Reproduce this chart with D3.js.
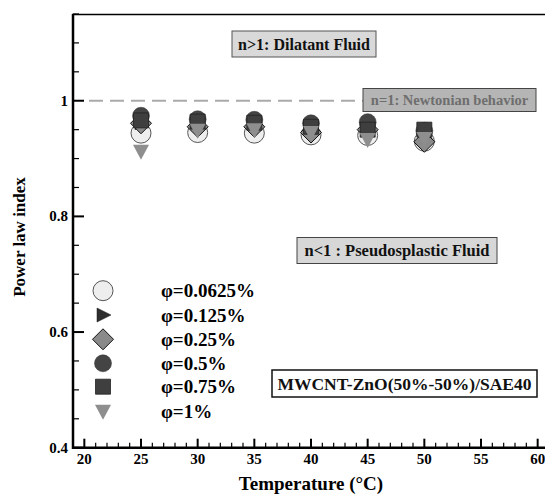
<!DOCTYPE html>
<html><head><meta charset="utf-8">
<script src="https://cdn.jsdelivr.net/npm/d3@7"></script>
<style>body{margin:0;background:#fff}svg{display:block}</style>
</head><body>
<svg id="c" width="545" height="495" font-family="'Liberation Serif', Tinos, Times, serif" font-weight="bold"></svg>
<script>
const temps = [25, 30, 35, 40, 45, 50];
const phi0625 = [0.944, 0.945, 0.944, 0.941, 0.940, 0.930];
const phi125 = [0.962, 0.960, 0.960, 0.952, 0.955, 0.935];
const phi25 = [0.961, 0.955, 0.955, 0.945, 0.950, 0.929];
const phi5 = [0.974, 0.968, 0.967, 0.961, 0.963, 0.948];
const phi75 = [0.966, 0.964, 0.962, 0.955, 0.950, 0.950];
const phi1 = [0.912, 0.948, 0.949, 0.944, 0.932, 0.934];
const seriesNames = ["φ=0.0625%", "φ=0.125%", "φ=0.25%", "φ=0.5%", "φ=0.75%", "φ=1%"];
const xTicks = [20, 25, 30, 35, 40, 45, 50, 55, 60];
const yTicks = [0.4, 0.6, 0.8, 1];
const yTickLabels = ["0.4", "0.6", "0.8", "1"];

const svg = d3.select("#c");
const x = d3.scaleLinear().domain([19, 61]).range([73, 549]);
const y = d3.scaleLinear().domain([0.4, 1.15]).range([447.7, 14]);

const shapes = [
  {fill:"#eeeeee", stroke:"#555", sw:1, path: () => d3.symbol(d3.symbolCircle, Math.PI*10*10)()},
  {fill:"#2e2e2e", stroke:"#1a1a1a", sw:0.5, path: () => "M-6,-7L8,0L-6,7Z"},
  {fill:"#8a8a8a", stroke:"#111", sw:1, path: () => "M0,-10.5L10.5,0L0,10.5L-10.5,0Z"},
  {fill:"#444", stroke:"#333", sw:0.5, path: () => d3.symbol(d3.symbolCircle, Math.PI*8.5*8.5)()},
  {fill:"#3f3f3f", stroke:"#222", sw:0.8, path: () => "M-7.5,-7.5H7.5V7.5H-7.5Z"},
  {fill:"#8e8e8e", stroke:"none", sw:0, path: () => "M-8,-7H8L0,8Z"}
];
const allSeries = [phi0625, phi125, phi25, phi5, phi75, phi1];

svg.append("line").attr("x1", 72).attr("x2", 545).attr("y1", 14.5).attr("y2", 14.5).attr("stroke", "#000").attr("stroke-width", 1.5);

const xAxis = svg.append("g").attr("transform", "translate(0,447.7)");
xAxis.append("line").attr("x1", 72).attr("x2", 545).attr("stroke", "#000").attr("stroke-width", 2.5);
const xMinor = d3.range(20, 61, 1);
xAxis.selectAll(".xm").data(xMinor).enter().append("line")
  .attr("x1", d => x(d)).attr("x2", d => x(d)).attr("y1", 0)
  .attr("y2", d => d % 5 === 0 ? -9 : -5).attr("stroke", "#000").attr("stroke-width", d => d % 5 === 0 ? 2 : 1.2);
xAxis.selectAll(".xl").data(xTicks).enter().append("text")
  .attr("x", d => x(d)).attr("y", 16).attr("text-anchor", "middle").attr("font-size", 15).text(d => d);

const yAxis = svg.append("g");
yAxis.append("line").attr("x1", 73).attr("x2", 73).attr("y1", 14).attr("y2", 449).attr("stroke", "#000").attr("stroke-width", 2.5);
const yMinor = d3.range(0, 16).map(i => +(0.4 + i * 0.05).toFixed(2));
yAxis.selectAll(".ym").data(yMinor).enter().append("line")
  .attr("y1", d => y(d)).attr("y2", d => y(d)).attr("x1", 73)
  .attr("x2", d => (Math.round(d * 100) % 20 === 0) ? 84 : 79).attr("stroke", "#000").attr("stroke-width", d => (Math.round(d*100) % 20 === 0) ? 2 : 1.2);
yAxis.selectAll(".yl").data(yTicks).enter().append("text")
  .attr("x", 68).attr("y", d => y(d) + 5).attr("text-anchor", "end").attr("font-size", 15)
  .text((d, i) => yTickLabels[i]);

svg.append("text").attr("transform", "translate(25,237) rotate(-90)").attr("text-anchor", "middle").attr("font-size", 17).text("Power law index");
svg.append("text").attr("x", 311).attr("y", 490).attr("text-anchor", "middle").attr("font-size", 19).text("Temperature (°C)");

svg.append("line").attr("x1", 89).attr("x2", 363).attr("y1", y(1)).attr("y2", y(1))
  .attr("stroke", "#aaa").attr("stroke-width", 2).attr("stroke-dasharray", "14,7");

allSeries.forEach((vals, si) => {
  const s = shapes[si];
  svg.append("g").selectAll("path").data(vals).enter().append("path")
    .attr("d", s.path())
    .attr("transform", (d, i) => `translate(${x(temps[i])},${y(d)})`)
    .attr("fill", s.fill).attr("stroke", s.stroke).attr("stroke-width", s.sw);
});

function box(x0, y0, w, h, fill, stroke, sw, txt, size, color) {
  svg.append("rect").attr("x", x0).attr("y", y0).attr("width", w).attr("height", h)
    .attr("fill", fill).attr("stroke", stroke).attr("stroke-width", sw);
  svg.append("text").attr("x", x0 + w / 2).attr("y", y0 + h / 2 + size * 0.35)
    .attr("text-anchor", "middle").attr("font-size", size).attr("fill", color).text(txt);
}
box(232, 31, 144, 26, "#d9d9d9", "#555", 1, "n>1: Dilatant Fluid", 16, "#111");
box(363, 88.5, 173, 23, "#b5b5b5", "#444", 1, "n=1: Newtonian behavior", 14.5, "#6e6e6e");
box(297, 237.5, 200, 26, "#d7d7d7", "#444", 1, "n<1 : Pseudosplastic Fluid", 16.5, "#111");
box(272, 370, 265, 27, "#ffffff", "#111", 1.5, "MWCNT-ZnO(50%-50%)/SAE40", 17.5, "#111");

const legY = [290.7, 315, 339.3, 363.3, 386.7, 411.7];
const leg = svg.append("g");
seriesNames.forEach((name, i) => {
  const s = shapes[i];
  leg.append("path").attr("d", s.path()).attr("transform", `translate(103,${legY[i]})`)
    .attr("fill", s.fill).attr("stroke", s.stroke).attr("stroke-width", s.sw);
  leg.append("text").attr("x", 161).attr("y", legY[i] + 6.5).attr("font-size", 19).text(name);
});
</script>
</body></html>
